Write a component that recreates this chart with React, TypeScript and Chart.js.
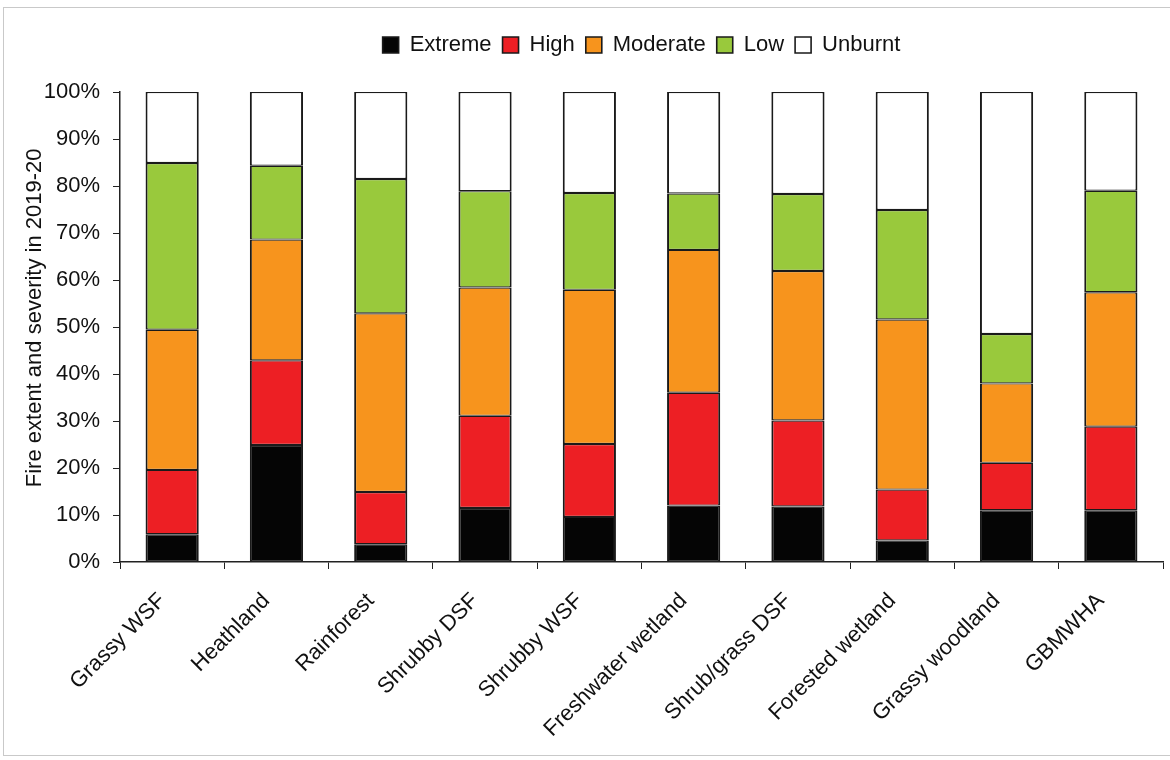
import React, { useEffect, useRef } from "react";
import { Chart, registerables } from "chart.js";

Chart.register(...registerables);

const categories = [
  "Grassy WSF",
  "Heathland",
  "Rainforest",
  "Shrubby DSF",
  "Shrubby WSF",
  "Freshwater wetland",
  "Shrub/grass DSF",
  "Forested wetland",
  "Grassy woodland",
  "GBMWHA",
];

const extreme = [5.9, 24.9, 3.8, 11.5, 9.6, 12.0, 11.8, 4.6, 11.0, 11.0];
const high = [13.7, 18.0, 11.1, 19.6, 15.5, 24.0, 18.3, 10.8, 10.1, 17.8];
const moderate = [29.8, 25.7, 38.0, 27.3, 32.8, 30.4, 31.8, 36.2, 16.9, 28.6];
const low = [35.5, 15.7, 28.6, 20.5, 20.6, 12.0, 16.4, 23.3, 10.5, 21.6];
const unburnt = [15.1, 15.7, 18.5, 21.1, 21.5, 21.6, 21.7, 25.1, 51.5, 21.0];

const seriesNames = ["Extreme", "High", "Moderate", "Low", "Unburnt"];
const seriesColors = ["#050505", "#ED1F24", "#F7941D", "#99C93C", "#FFFFFF"];
const yTickValues = [0, 10, 20, 30, 40, 50, 60, 70, 80, 90, 100];
const yTitle = "Fire extent and severity in 2019-20";

const FONT = "'Liberation Sans', Arial, sans-serif";

export default function App() {
  const canvasRef = useRef<HTMLCanvasElement | null>(null);

  useEffect(() => {
    const canvas = canvasRef.current;
    if (!canvas) return;
    const seriesData = [extreme, high, moderate, low, unburnt];
    const chart = new Chart(canvas, {
      type: "bar",
      data: {
        labels: categories,
        datasets: seriesNames.map((name, i) => ({
          label: name,
          data: seriesData[i],
          backgroundColor: seriesColors[i],
          borderColor: "#1a1a1a",
          borderWidth: { top: 1.2, bottom: 1.2, left: 2, right: 2 },
          borderSkipped: false,
          barPercentage: 1,
          categoryPercentage: 0.51,
        })),
      },
      options: {
        responsive: false,
        animation: false,
        devicePixelRatio: 1,
        layout: { padding: { top: 23, right: 7, bottom: 0, left: 0 } },
        plugins: {
          legend: {
            display: true,
            position: "top",
            weight: 3000,
            fullSize: false,
            labels: {
              font: { family: FONT, size: 22 },
              color: "#111",
              boxWidth: 16,
              boxHeight: 16,
              padding: 11,
            },
          },
          title: {
            display: true,
            text: "",
            font: { size: 10, lineHeight: 1 },
            padding: { top: 16, bottom: 0 },
          },
          tooltip: { enabled: false },
        },
        scales: {
          x: {
            stacked: true,
            grid: {
              display: true,
              drawOnChartArea: false,
              drawTicks: true,
              tickLength: 7,
              color: "#222",
              offset: true,
            },
            border: { display: true, color: "#222", width: 1.5 },
            ticks: {
              font: { family: FONT, size: 22 },
              color: "#111",
              maxRotation: 45,
              minRotation: 45,
              autoSkip: false,
              padding: 19,
              labelOffset: -10,
            },
            afterFit: (scale: any) => {
              scale.height = 198;
            },
          },
          y: {
            stacked: true,
            min: 0,
            max: 100,
            afterBuildTicks: (scale: any) => {
              scale.ticks = yTickValues.map((v) => ({ value: v }));
            },
            grid: {
              display: true,
              drawOnChartArea: false,
              drawTicks: true,
              tickLength: 7,
              color: "#222",
            },
            border: { display: true, color: "#222", width: 1.5 },
            ticks: {
              font: { family: FONT, size: 22 },
              color: "#111",
              padding: 13,
              callback: (v: any) => v + "%",
            },
            title: {
              display: true,
              text: "   " + yTitle,
              font: { family: FONT, size: 22 },
              color: "#111",
              padding: { top: 22, bottom: 0 },
            },
            afterFit: (scale: any) => {
              scale.width = 120;
            },
          },
        },
      },
    });
    return () => chart.destroy();
  }, []);

  return (
    <div
      style={{
        position: "absolute",
        left: 0,
        top: 0,
        width: 1170,
        height: 760,
        background: "#fff",
        overflow: "hidden",
      }}
    >
      <div
        style={{
          position: "absolute",
          left: 3,
          top: 7,
          width: 1180,
          height: 749,
          border: "1px solid #c9c9c9",
          boxSizing: "border-box",
        }}
      />
      <canvas
        ref={canvasRef}
        width={1170}
        height={760}
        style={{ position: "absolute", left: 0, top: 0, width: 1170, height: 760 }}
      />
    </div>
  );
}
